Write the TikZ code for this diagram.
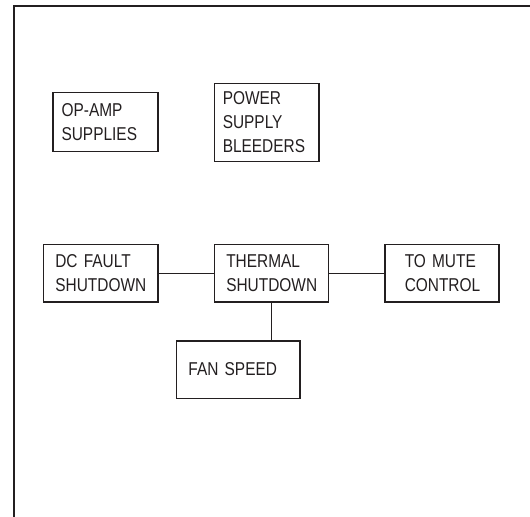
\documentclass[tikz,border=0pt]{standalone}
\usepackage{fontspec}
\setmainfont[FakeStretch=0.83]{Liberation Sans}
\definecolor{lineColor}{RGB}{35,31,32}

\begin{document}
\begin{tikzpicture}[
  x=1bp, y=-1bp,
  font=\fontsize{18.6bp}{24bp}\selectfont,
  box/.style={draw=lineColor, line width=1.5bp, anchor=north west, align=left, inner ysep=0pt, text=lineColor},
  wire/.style={draw=lineColor, line width=1.7bp}
]
\useasboundingbox (0,0) rectangle (530,517);

% Outer frame (left and top edges only)
\draw[lineColor, line width=1.9bp] (14.2,517) -- (14.2,6.1) -- (530,6.1);

% Supply blocks
\node[box, text width=87.9bp, inner xsep=8.4bp, minimum height=58.8bp] (opamp) at (52.4,91.9) {OP-AMP\\SUPPLIES};
\node[box, text width=87.7bp, inner xsep=8.5bp, minimum height=77.7bp] (bleeder) at (213.5,82.8) {POWER\\SUPPLY\\BLEEDERS};

% Shutdown row
\node[box, text width=90.4bp, inner xsep=12bp, minimum height=57.5bp] (dcfault) at (42.6,243.9) {DC FAULT\\SHUTDOWN};
\node[box, text width=90.2bp, inner xsep=12bp, minimum height=57.5bp] (thermal) at (213.5,243.9) {THERMAL\\SHUTDOWN};
\node[box, text width=74bp, inner xsep=20bp, minimum height=57.5bp] (mute) at (384,243.9) {TO MUTE\\CONTROL};

% Fan control
\node[box, text width=99.6bp, inner xsep=12bp, minimum height=57.6bp] (fan) at (175.7,340) {FAN SPEED};

% Connections
\draw[wire] (dcfault) -- (thermal);
\draw[wire] (thermal) -- (mute);
\draw[wire] (thermal.south) -- (thermal.south |- fan.north);

\end{tikzpicture}
\end{document}
